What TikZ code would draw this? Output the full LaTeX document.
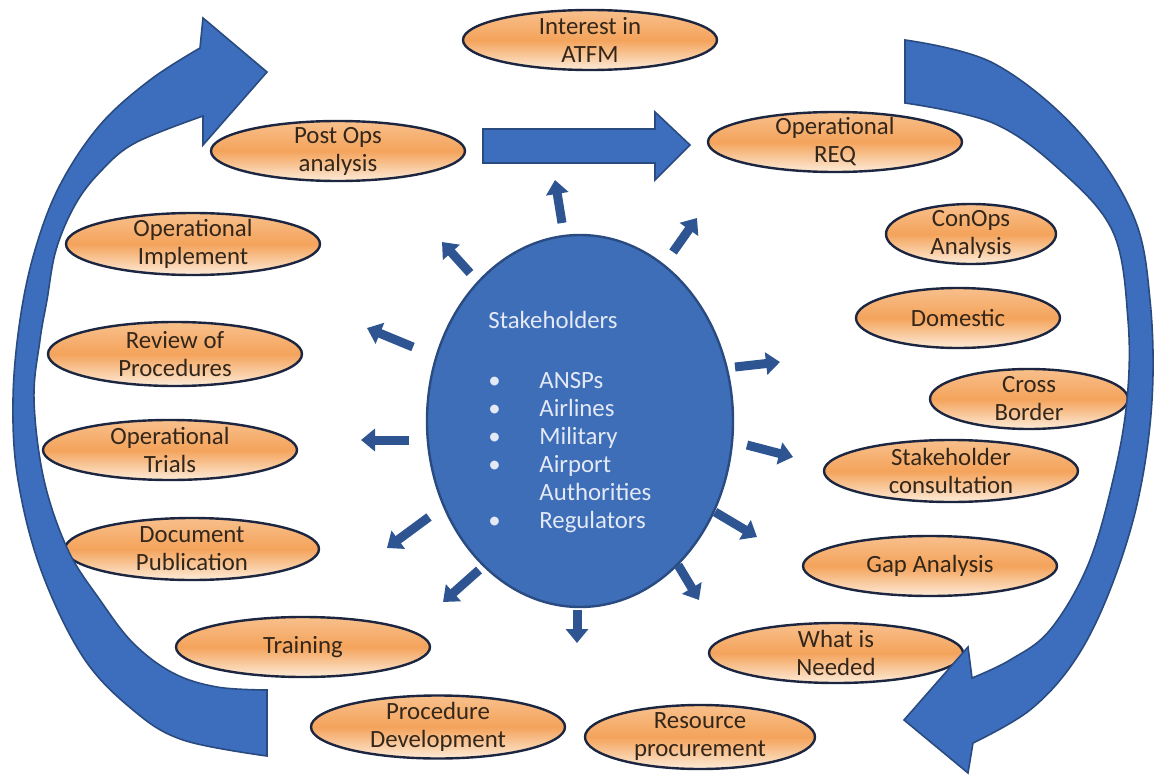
\documentclass[tikz,border=0pt]{standalone}
\usepackage{fontspec}
\setmainfont{Carlito}
\usetikzlibrary{shapes.geometric,arrows.meta}
\definecolor{ovaledge}{HTML}{1C2640}
\definecolor{ovaltop}{HTML}{F8C08C}
\definecolor{ovalmid}{HTML}{F4A35B}
\definecolor{ovalbot}{HTML}{FDEBD8}
\definecolor{ovaltext}{HTML}{33261A}
\definecolor{arrowblue}{HTML}{3D6EBE}
\definecolor{arrowedge}{HTML}{2A4B80}
\definecolor{hubblue}{HTML}{3E6EB8}
\definecolor{hubtext}{HTML}{E3E9F5}
\definecolor{spokeblue}{HTML}{2E5491}
\tikzset{
  oval/.style={ellipse,draw=ovaledge,line width=1.2pt,top color=ovaltop,bottom color=ovalbot,middle color=ovalmid,
    minimum width=127pt,minimum height=30pt,inner xsep=0pt,inner ysep=-3pt,align=center,text=ovaltext,
    font=\fontsize{12.4}{14}\selectfont},
  hub/.style={ellipse,draw=arrowedge,line width=1.2pt,fill=hubblue,minimum width=153pt,minimum height=186pt},
  hubtext/.style={align=left,inner sep=0pt,text=hubtext,font=\fontsize{12.4}{14}\selectfont},
  spoke/.style={line width=4.5pt,draw=spokeblue,-{Triangle[width=11pt,length=7pt]}},
  bigarrow/.style={fill=arrowblue,draw=arrowedge,line width=0.8pt,line join=miter}
}
\begin{document}
\begin{tikzpicture}[x=0.5pt,y=-0.5pt]
\useasboundingbox (0,0) rectangle (1157,776);
% ring of steps
\node[oval] (intr) at (590,40) {Interest in\\ATFM};
\node[oval] (postops) at (338,151) {Post Ops\\analysis};
\node[oval] (opreq) at (835,142) {Operational\\REQ};
\node[oval,minimum width=85pt] (conops) at (971,234) {ConOps\\Analysis};
\node[oval,minimum width=102pt] (domestic) at (958,318) {Domestic};
\node[oval,minimum width=99pt] (cross) at (1029,399) {Cross\\Border};
\node[oval,minimum height=31pt] (consult) at (951,471) {Stakeholder\\consultation};
\node[oval] (gap) at (930,566) {Gap Analysis};
\node[oval] (needed) at (836,653) {What is\\Needed};
\node[oval,minimum width=115pt,minimum height=32pt] (resource) at (700,737) {Resource\\procurement};
\node[oval,minimum height=31.5pt] (procdev) at (438,727) {Procedure\\Development};
\node[oval] (training) at (303,647) {Training};
\node[oval,minimum height=31pt] (docpub) at (192,549) {Document\\Publication};
\node[oval] (trials) at (170,450) {Operational\\Trials};
\node[oval,minimum height=32pt] (review) at (175,354) {Review of\\Procedures};
\node[oval,minimum height=31pt] (implement) at (193,244) {Operational\\Implement};
% centre
\node[hub] (stake) at (580,421) {};
\node[hubtext,anchor=north west] (stakelist) at (488,311) {Stakeholders\\[16pt]
  \makebox[25.5pt][l]{\textbullet}ANSPs\\
  \makebox[25.5pt][l]{\textbullet}Airlines\\
  \makebox[25.5pt][l]{\textbullet}Military\\
  \makebox[25.5pt][l]{\textbullet}Airport\\
  \hspace*{25.5pt}Authorities\\
  \makebox[25.5pt][l]{\textbullet}Regulators};
% small arrows out of the centre
\foreach \n/\ax/\ay/\bx/\by in {1/562/223/555/180,2/673/252/697/218,3/470/273/442/242,4/413/347/367/328,
  5/409/440/361/440,6/429/517/387/548,7/479/570/443/602,8/577/610/577/643,
  9/678/565/699/600,10/715/512/757/537,11/747/445/793/457,12/735/367/780/362}{
  \coordinate (sp\n) at (\ax,\ay);
  \coordinate (tp\n) at (\bx,\by);
  \draw[spoke] (sp\n) -- (tp\n);
}
% block arrow between post ops and req
\filldraw[bigarrow] (483,129) -- (655,129) -- (655,112) -- (690,145) -- (655,180) -- (655,163) -- (483,163) -- cycle;
% left sweep
\filldraw[bigarrow] plot[smooth,tension=0.6] coordinates {(267,690) (217,687) (173,673) (133,643) (100,600) (68,550)
  (44,480) (34,400) (40,340) (47,300) (56,250) (75,205) (100,172) (135,143) (203,116)}
  -- (203,145) -- (267,72) -- (203,18)
  -- plot[smooth,tension=0.6] coordinates {(200,48) (150,80) (100,125) (60,185) (35,250) (20,320) (13,400) (18,480)
  (41,570) (83,657) (133,710) (183,740) (267,756)} -- cycle;
% right sweep
\filldraw[bigarrow] plot[smooth,tension=0.6] coordinates {(905,40) (993,63) (1077,130) (1133,215) (1150,300)
  (1152,400) (1138,500) (1110,590) (1075,660) (1030,710) (973,743)}
  -- (968,773) -- (904,720) -- (968,647)
  -- plot[smooth,tension=0.6] coordinates {(972,678) (1010,660) (1050,630) (1088,565) (1113,480) (1127,400)
  (1128,320) (1113,232) (1060,170) (993,123) (905,103)} -- cycle;
\end{tikzpicture}
\end{document}
